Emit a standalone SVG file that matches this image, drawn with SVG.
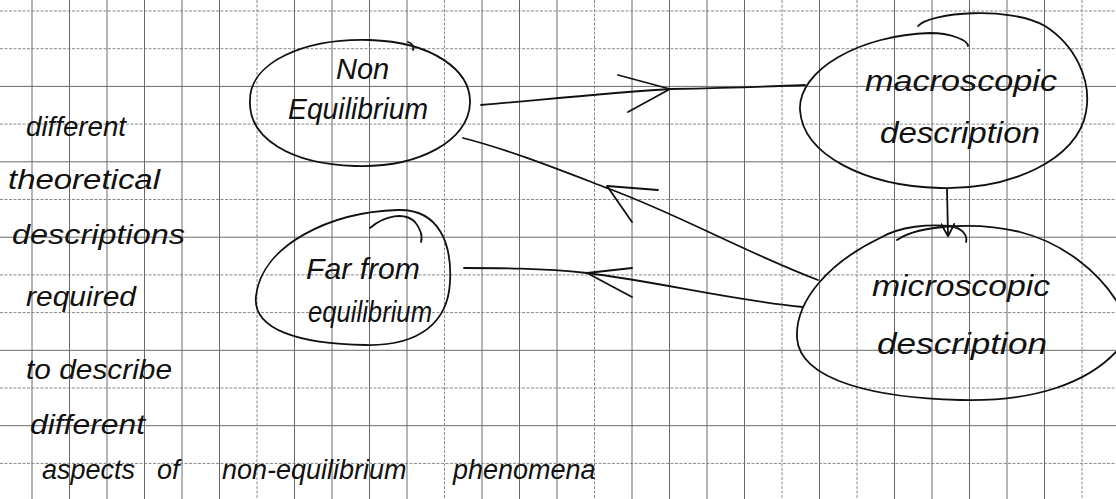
<svg xmlns="http://www.w3.org/2000/svg" width="1116" height="499" viewBox="0 0 1116 499">
<style>
.grid line{stroke:#6a6a6a;stroke-width:1}
.grid .d{stroke-dasharray:3 1.5;stroke:#8a8a8a}
.ink{fill:none;stroke:#111;stroke-width:1.8;stroke-linecap:round;stroke-linejoin:round}
.t{font-family:"Liberation Sans","DejaVu Sans",sans-serif;font-style:italic;font-size:29px;fill:#111}
.n{font-family:"Liberation Sans","DejaVu Sans",sans-serif;font-style:italic;font-size:27px;fill:#111}
</style>
<defs>
<marker id="ah" viewBox="0 0 12 12" refX="10" refY="6" markerWidth="14" markerHeight="14" orient="auto" markerUnits="userSpaceOnUse">
<path d="M0,0 L11,6 L0,12" fill="none" stroke="#111" stroke-width="1.6"/>
</marker>
</defs>
<rect width="1116" height="499" fill="#fff"/>
<g class="grid">
<line x1="0" y1="11" x2="1116" y2="11" class="d"/>
<line x1="0" y1="48.7" x2="1116" y2="48.7" class="d"/>
<line x1="0" y1="86.4" x2="1116" y2="86.4"/>
<line x1="0" y1="124.1" x2="1116" y2="124.1" class="d"/>
<line x1="0" y1="161.8" x2="1116" y2="161.8"/>
<line x1="0" y1="199.5" x2="1116" y2="199.5" class="d"/>
<line x1="0" y1="237.2" x2="1116" y2="237.2"/>
<line x1="0" y1="274.9" x2="1116" y2="274.9" class="d"/>
<line x1="0" y1="312.6" x2="1116" y2="312.6" class="d"/>
<line x1="0" y1="350.3" x2="1116" y2="350.3"/>
<line x1="0" y1="388" x2="1116" y2="388" class="d"/>
<line x1="0" y1="425.7" x2="1116" y2="425.7"/>
<line x1="0" y1="463.4" x2="1116" y2="463.4" class="d"/>
<line x1="32" y1="0" x2="32" y2="499"/>
<line x1="69.5" y1="0" x2="69.5" y2="499"/>
<line x1="107" y1="0" x2="107" y2="499"/>
<line x1="144.5" y1="0" x2="144.5" y2="499"/>
<line x1="182" y1="0" x2="182" y2="499"/>
<line x1="219.5" y1="0" x2="219.5" y2="499"/>
<line x1="257" y1="0" x2="257" y2="499" class="d"/>
<line x1="294.5" y1="0" x2="294.5" y2="499"/>
<line x1="332" y1="0" x2="332" y2="499"/>
<line x1="369.5" y1="0" x2="369.5" y2="499"/>
<line x1="407" y1="0" x2="407" y2="499"/>
<line x1="444.5" y1="0" x2="444.5" y2="499" class="d"/>
<line x1="482" y1="0" x2="482" y2="499"/>
<line x1="519.5" y1="0" x2="519.5" y2="499"/>
<line x1="557" y1="0" x2="557" y2="499"/>
<line x1="594.5" y1="0" x2="594.5" y2="499" class="d"/>
<line x1="632" y1="0" x2="632" y2="499"/>
<line x1="669.5" y1="0" x2="669.5" y2="499"/>
<line x1="707" y1="0" x2="707" y2="499"/>
<line x1="744.5" y1="0" x2="744.5" y2="499"/>
<line x1="782" y1="0" x2="782" y2="499" class="d"/>
<line x1="819.5" y1="0" x2="819.5" y2="499"/>
<line x1="857" y1="0" x2="857" y2="499" class="d"/>
<line x1="894.5" y1="0" x2="894.5" y2="499"/>
<line x1="932" y1="0" x2="932" y2="499"/>
<line x1="969.5" y1="0" x2="969.5" y2="499"/>
<line x1="1007" y1="0" x2="1007" y2="499"/>
<line x1="1044.5" y1="0" x2="1044.5" y2="499"/>
<line x1="1082" y1="0" x2="1082" y2="499" class="d"/>
</g>
<g id="side-note">
<text class="n" x="26" y="136" textLength="100" lengthAdjust="spacingAndGlyphs">different</text>
<text class="n" x="8" y="189" textLength="152" lengthAdjust="spacingAndGlyphs">theoretical</text>
<text class="n" x="12" y="244" textLength="173" lengthAdjust="spacingAndGlyphs">descriptions</text>
<text class="n" x="26" y="306" textLength="110" lengthAdjust="spacingAndGlyphs">required</text>
<text class="n" x="26" y="379" textLength="146" lengthAdjust="spacingAndGlyphs">to describe</text>
<text class="n" x="30" y="434" textLength="115" lengthAdjust="spacingAndGlyphs">different</text>
<text class="n" y="479"><tspan x="42">aspects</tspan><tspan x="157">of</tspan><tspan x="222">non-equilibrium</tspan><tspan x="453">phenomena</tspan></text>
</g>
<g id="connectors">
<path class="ink" d="M481,105 C560,98 620,92 670,89"/>
<path class="ink" d="M670,89 C720,88 760,87 805,85"/>
<path class="ink" d="M618,75 L670,89 L628,112"/>
<path class="ink" d="M818,280 C740,250 680,215 607,188"/>
<path class="ink" d="M607,188 C560,170 510,150 463,138"/>
<path class="ink" d="M658,190 L607,186 L632,222"/>
<path class="ink" d="M803,307 C730,300 660,282 587,273"/>
<path class="ink" d="M587,273 C540,268 500,268 464,268"/>
<path class="ink" d="M632,268 L587,273 L632,297"/>
<path class="ink" d="M947,189 L948,235" marker-end="url(#ah)"/>
</g>
<g id="node-non-equilibrium">
<path class="ink" d="M250,100 C250,62 305,38 370,40 C432,42 471,70 470,103 C469,140 420,168 355,166 C290,164 248,138 250,100 Z"/>
<path class="ink" d="M408,42 C412,43 414,47 413,50"/>
<text class="t" x="336" y="79">Non</text>
<text class="t" x="288" y="119" textLength="140" lengthAdjust="spacingAndGlyphs">Equilibrium</text>
</g>
<g id="node-far-from-equilibrium">
<path class="ink" d="M256,296 C262,245 330,212 398,210 C440,209 452,245 450,282 C448,322 420,346 366,345 C300,344 252,330 256,296 Z"/>
<path class="ink" d="M370,228 C385,215 405,212 415,222 C420,228 423,236 421,242"/>
<text class="t" x="306" y="279" textLength="114" lengthAdjust="spacingAndGlyphs">Far from</text>
<text class="t" x="308" y="322" textLength="124" lengthAdjust="spacingAndGlyphs">equilibrium</text>
</g>
<g id="node-macroscopic">
<path class="ink" d="M918,26 C930,12 1010,6 1045,26 C1075,45 1092,80 1086,112 C1078,160 1010,190 940,188 C865,186 803,155 800,110 C798,70 860,35 930,33 C950,33 968,40 968,46"/>
<text class="t" x="865" y="91" textLength="192" lengthAdjust="spacingAndGlyphs">macroscopic</text>
<text class="t" x="880" y="143" textLength="160" lengthAdjust="spacingAndGlyphs">description</text>
</g>
<g id="node-microscopic">
<path class="ink" d="M897,240 C920,224 980,222 1020,232 C1060,242 1100,270 1122,310 M1122,345 C1090,385 1030,402 960,400 C880,398 800,382 797,338 C795,300 830,262 880,238 C900,226 930,224 950,226 C962,228 968,235 966,242"/>
<text class="t" x="872" y="296" textLength="178" lengthAdjust="spacingAndGlyphs">microscopic</text>
<text class="t" x="877" y="354" textLength="170" lengthAdjust="spacingAndGlyphs">description</text>
</g>
</svg>
